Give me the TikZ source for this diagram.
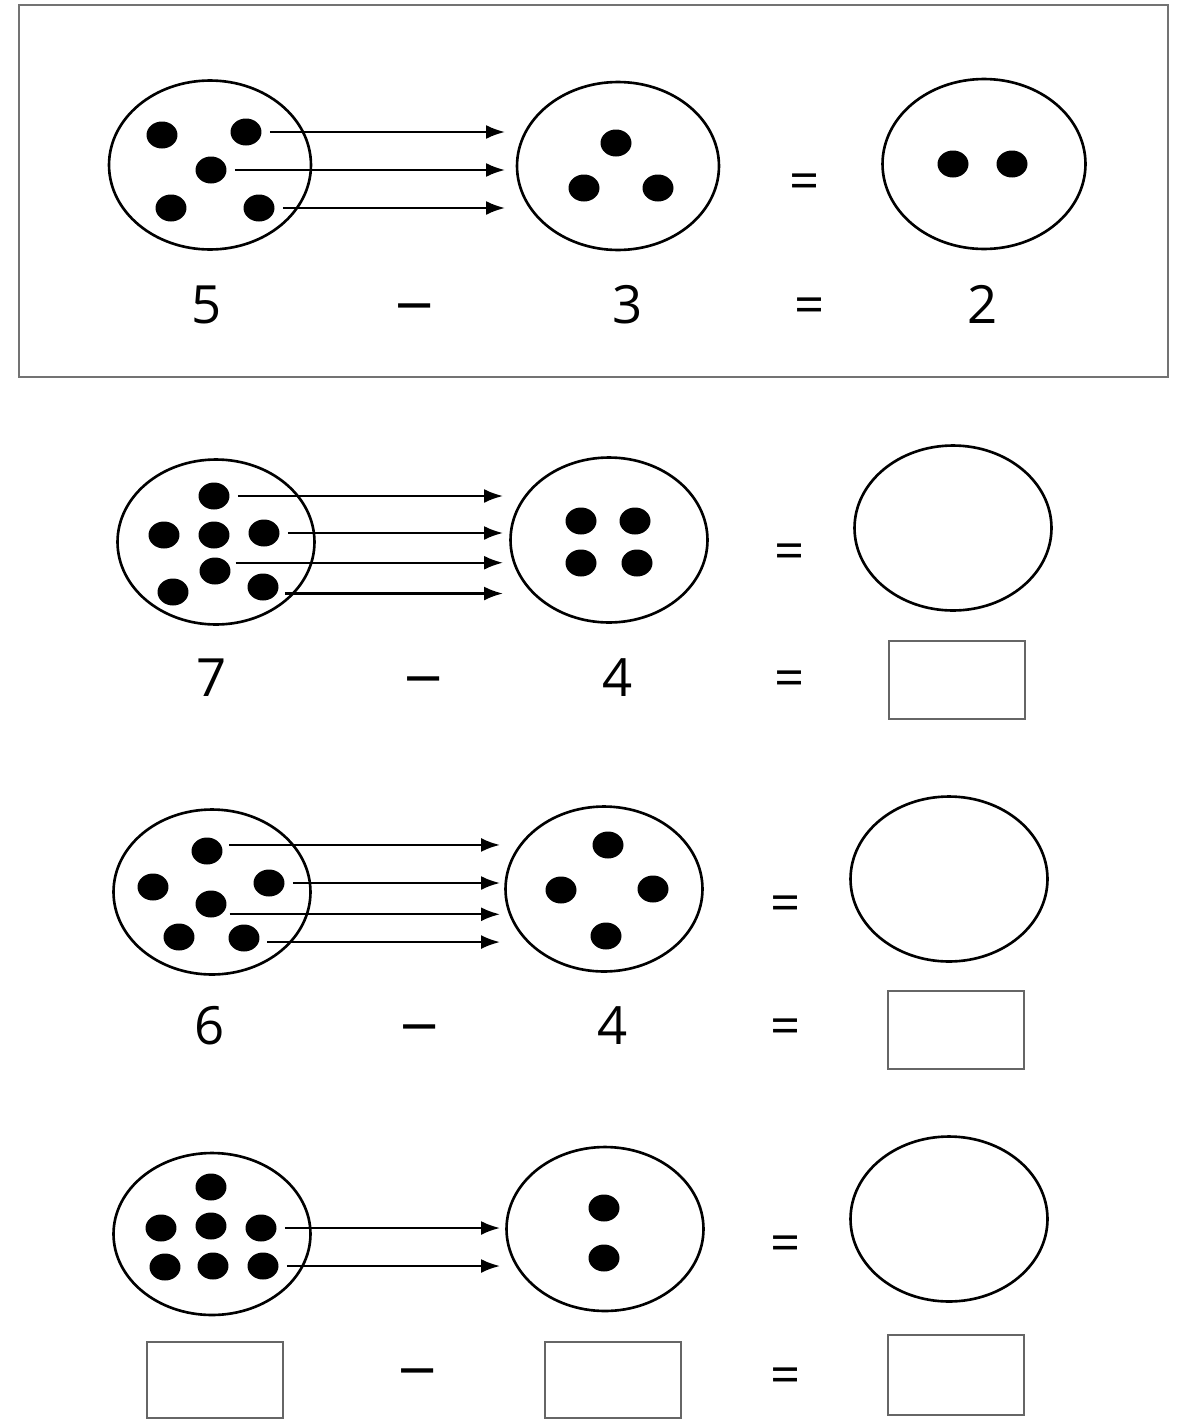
\documentclass[tikz,border=0pt]{standalone}
\usepackage{graphicx}
\usepackage{fontspec}
\setmainfont{Open Sans}
\usetikzlibrary{shapes.geometric,arrows.meta}
\newcommand{\wdash}{\scalebox{1.45}[1.1]{–}}

\tikzset{
  ring/.style={draw,ellipse,line width=1.5pt,minimum width=3.94cm,minimum height=3.3cm,inner sep=0pt},
  dot/.style={fill,ellipse,minimum width=0.62cm,minimum height=0.54cm,inner sep=0pt},
  link/.style={-{Latex[length=3.8mm,width=2.8mm]},line width=1.3pt,shorten <=1.6mm},
  ansbox/.style={draw=black!60,line width=1.1pt,minimum width=2.72cm,minimum height=1.56cm,inner sep=0pt},
  num/.style={font=\fontsize{30}{36}\selectfont,inner sep=0pt,anchor=base}
}

\begin{document}
\begin{tikzpicture}[x=0.02cm,y=-0.02cm]
\useasboundingbox (0,0) rectangle (1184,1420);
% ---- worked example (framed) ----
\draw[black!55,line width=0.9pt] (19,5) rectangle (1168,377);
\node[ring,minimum width=4.04cm,minimum height=3.38cm] (p1a) at (210,165) {};
\node[ring,minimum width=4.04cm,minimum height=3.36cm] (p1b) at (618,166) {};
\node[ring,minimum width=4.06cm,minimum height=3.4cm] (p1c) at (984,164) {};
\foreach \n/\xx/\yy in {1/162/135,2/246/132,3/211/170,4/171/208,5/259/208}
  {\node[dot] (p1a\n) at (\xx,\yy) {};}
\foreach \n/\xx/\yy in {1/616/143,2/584/188,3/658/188}
  {\node[dot] (p1b\n) at (\xx,\yy) {};}
\node[dot] (p1c1) at (953,164) {};
\node[dot] (p1c2) at (1012,164) {};
\coordinate (p1e) at (505,0);
\foreach \d in {2,3,5} {\draw[link] (p1a\d.east) -- (p1a\d.east -| p1e);}
\node[num] (p1q) at (805,199) {=};
\node[num] (p1x) at (207,323) {5};
\node[num] (p1m) at (415,321) {\wdash};
\node[num] (p1y) at (628,323) {3};
\node[num] (p1r) at (810,323) {=};
\node[num] (p1z) at (983,323) {2};
% ---- task 1: 7 - 4 ----
\node[ring] (p2a) at (216,542) {};
\node[ring] (p2b) at (609,540) {};
\node[ring] (p2c) at (953,528) {};
\foreach \n/\xx/\yy in {1/214/496,2/164/535,3/214/535,4/264/533,5/215/571,6/173/592,7/263/587}
  {\node[dot] (p2a\n) at (\xx,\yy) {};}
\foreach \n/\xx/\yy in {1/581/521,2/635/521,3/581/563,4/637/563}
  {\node[dot] (p2b\n) at (\xx,\yy) {};}
\coordinate (p2e) at (503,0);
\foreach \d/\a in {1/0,4/0,5/33,7/-25} {\draw[link] (p2a\d.\a) -- (p2a\d.\a -| p2e);}
\node[num] (p2q) at (790,569) {=};
\node[num] (p2x) at (212,696) {7};
\node[num] (p2m) at (424,694) {\wdash};
\node[num] (p2y) at (618,696) {4};
\node[num] (p2r) at (790,696) {=};
\node[ansbox] (p2z) at (957,680) {};
% ---- task 2: 6 - 4 ----
\node[ring] (p3a) at (212,892) {};
\node[ring] (p3b) at (604,889) {};
\node[ring] (p3c) at (949,879) {};
\foreach \n/\xx/\yy in {1/207/851,2/153/887,3/269/883,4/211/904,5/179/937,6/244/938}
  {\node[dot] (p3a\n) at (\xx,\yy) {};}
\foreach \n/\xx/\yy in {1/608/845,2/561/890,3/653/889,4/606/936}
  {\node[dot] (p3b\n) at (\xx,\yy) {};}
\coordinate (p3e) at (500,0);
\foreach \d/\a in {1/23,3/0,4/-44,6/-15} {\draw[link] (p3a\d.\a) -- (p3a\d.\a -| p3e);}
\node[num] (p3q) at (786,921) {=};
\node[num] (p3x) at (210,1044) {6};
\node[num] (p3m) at (420,1042) {\wdash};
\node[num] (p3y) at (613,1044) {4};
\node[num] (p3r) at (786,1044) {=};
\node[ansbox] (p3z) at (956,1030) {};
% ---- task 3: all blank ----
\node[ring,minimum height=3.24cm] (p4a) at (212,1234) {};
\node[ring,minimum height=3.28cm] (p4b) at (605,1229) {};
\node[ring] (p4c) at (949,1219) {};
\foreach \n/\xx/\yy in {1/211/1187,2/161/1228,3/211/1226,4/261/1228,5/165/1267,6/213/1266,7/263/1266}
  {\node[dot] (p4a\n) at (\xx,\yy) {};}
\node[dot] (p4b1) at (604,1208) {};
\node[dot] (p4b2) at (604,1258) {};
\coordinate (p4e) at (500,0);
\foreach \d in {4,7} {\draw[link] (p4a\d.east) -- (p4a\d.east -| p4e);}
\node[num] (p4q) at (786,1261) {=};
\node[ansbox,minimum height=1.52cm] (p4x) at (215,1380) {};
\node[num] (p4m) at (418,1386) {\wdash};
\node[ansbox,minimum height=1.52cm] (p4y) at (613,1380) {};
\node[num] (p4r) at (786,1393) {=};
\node[ansbox,minimum height=1.6cm] (p4z) at (956,1375) {};
\end{tikzpicture}
\end{document}
